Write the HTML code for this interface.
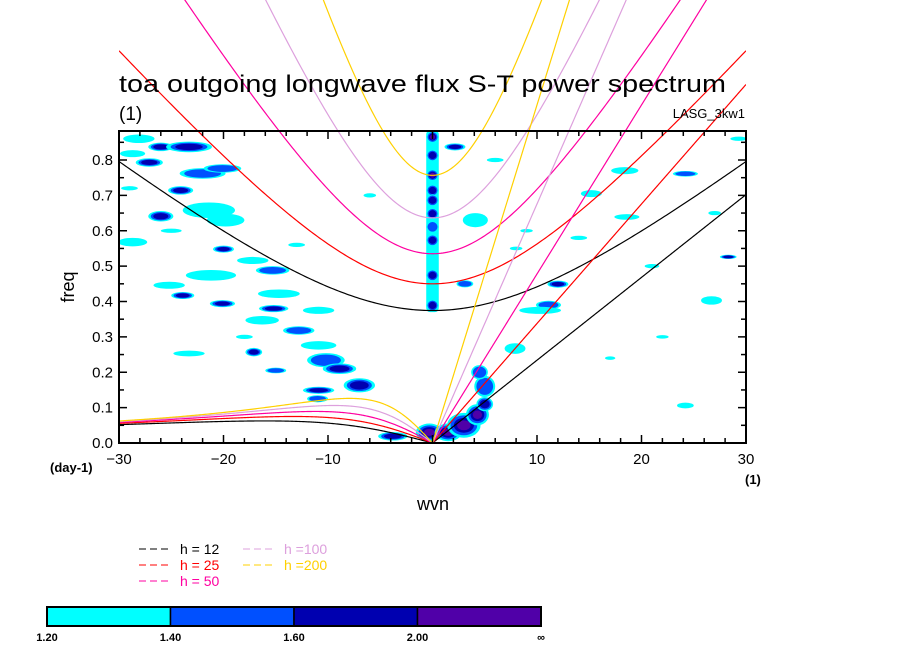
<!DOCTYPE html>
<html><head><meta charset="utf-8"><style>
html,body{margin:0;padding:0;background:#fff;}
svg{display:block;font-family:"Liberation Sans",sans-serif;}
</style></head><body>
<svg id="chart" width="904" height="654" viewBox="0 0 904 654" xmlns="http://www.w3.org/2000/svg">
<rect x="0" y="0" width="904" height="654" fill="#fff"/>
<g id="blobs"></g>
<g id="curves"></g>
<g id="axes"></g>
<text x="119" y="92" font-size="24" textLength="607" lengthAdjust="spacingAndGlyphs">toa outgoing longwave flux S-T power spectrum</text>
<text x="119" y="120" font-size="19">(1)</text>
<text x="745" y="118" font-size="13" text-anchor="end">LASG_3kw1</text>
<text x="433" y="510" font-size="18" text-anchor="middle">wvn</text>
<text x="74" y="287" font-size="18" text-anchor="middle" transform="rotate(-90 74 287)">freq</text>
<text x="50" y="472" font-size="13" font-weight="bold">(day-1)</text>
<text x="745" y="484" font-size="13" font-weight="bold">(1)</text>
<g id="legend"></g>
<g id="colorbar"></g>
</svg>
<script>
const depths = [12, 25, 50, 100, 200];
const depthColors = ["#000000", "#ff0000", "#ff00a0", "#dda0dd", "#ffd000"];
const xTicks = [-30, -20, -10, 0, 10, 20, 30];
const yTicks = [0.0, 0.1, 0.2, 0.3, 0.4, 0.5, 0.6, 0.7, 0.8];
const levelLabels = ["1.20", "1.40", "1.60", "2.00", "\u221e"];
const levelColors = ["#00ffff", "#0050ff", "#0000b0", "#5000a8"];
// blobs: [wvn, freq, halfWidth(wvn), halfHeight(freq), level]
const blobWvn =  [-28.1,-26,-23.3,-27.1,-28.7,-22,-24.1,-20.1,-21.4,-26,-19.8,-28.7,-20,-17.2,-15.3,-21.2,-25.2,-14.7,-23.9,-20.1,-15.2,-10.9,-16.3,-12.8,-10.9,-10.2,-17.1,-8.9,-7,-10.9,-11,-3.8,-15,-23.3,2.15,4.1,3.1,12,11.1,10.3,7.9,15.2,18.4,24.2,29.3,26.7,24.2,28.3,18.6,-29,-25,-18,-13,-6,6,9,14,21,27,22,17,8,-0.3,1.5,3,4.3,5,5,4.5];
const blobFreq = [0.86,0.837,0.837,0.793,0.818,0.762,0.714,0.776,0.658,0.641,0.63,0.568,0.548,0.516,0.488,0.474,0.446,0.422,0.417,0.394,0.38,0.375,0.347,0.318,0.276,0.234,0.257,0.21,0.163,0.149,0.125,0.019,0.205,0.253,0.837,0.63,0.45,0.449,0.39,0.375,0.267,0.705,0.77,0.761,0.86,0.403,0.106,0.526,0.639,0.72,0.6,0.3,0.56,0.7,0.8,0.6,0.58,0.5,0.65,0.3,0.24,0.55,0.03,0.03,0.05,0.08,0.11,0.16,0.2];
const blobRx =   [1.5,1.2,2.2,1.3,1.2,2.2,1.2,1.8,2.5,1.2,1.8,1.4,1,1.5,1.6,2.4,1.5,2,1.1,1.2,1.4,1.5,1.6,1.5,1.7,1.8,0.8,1.6,1.5,1.5,1,1.4,1,1.5,1,1.2,0.8,1,1.2,2,1,1,1.3,1.2,0.8,1,0.8,0.8,1.2,0.8,1,0.8,0.8,0.6,0.8,0.6,0.8,0.7,0.6,0.6,0.5,0.6,1.3,1.3,1.6,1.1,0.8,1,0.8];
const blobRy =   [0.012,0.012,0.015,0.012,0.01,0.015,0.012,0.012,0.022,0.015,0.018,0.012,0.01,0.01,0.012,0.015,0.01,0.012,0.01,0.01,0.01,0.01,0.012,0.012,0.012,0.02,0.012,0.015,0.02,0.01,0.01,0.012,0.008,0.008,0.01,0.02,0.01,0.01,0.012,0.01,0.015,0.01,0.01,0.008,0.006,0.012,0.008,0.006,0.008,0.006,0.006,0.006,0.006,0.006,0.006,0.005,0.006,0.006,0.006,0.005,0.005,0.005,0.025,0.025,0.035,0.03,0.02,0.03,0.02];
const blobLevel =[1,3,3,3,1,2,3,2,1,3,1,1,3,1,2,1,1,1,3,3,3,1,1,2,1,2,3,3,3,3,2,3,2,1,3,1,2,3,2,1,1,1,1,2,1,1,1,3,1,1,1,1,1,1,1,1,1,1,1,1,1,1,4,4,4,4,3,2,2];
// vertical column of maxima at wvn 0
const colFreq = [0.865,0.813,0.757,0.714,0.686,0.648,0.611,0.573,0.474,0.389];
const colLevel = [4,3,4,3,3,3,2,3,3,3];

const X0=119,X1=746,Y0=443,Y1=131;
const xs = w => X0 + (w+30)/60*(X1-X0);
const ys = f => Y0 - f*353.75;
const NS="http://www.w3.org/2000/svg";
function mk(tag, attrs, parent){const e=document.createElementNS(NS,tag);for(const k in attrs)e.setAttribute(k,attrs[k]);parent.appendChild(e);return e;}

const clip = mk('clipPath',{id:'pc'},document.getElementById('chart'));
mk('rect',{x:X0,y:Y1,width:X1-X0,height:Y0-Y1},clip);

const gb = document.getElementById('blobs');
gb.setAttribute('clip-path','url(#pc)');
const colBg = mk('rect',{x:xs(-0.6),y:ys(0.884),width:xs(0.6)-xs(-0.6),height:ys(0.37)-ys(0.884),fill:levelColors[0],rx:4},gb);


function blob(w,f,rx,ry,lv){
  for(let l=0;l<lv;l++){
    const s=1-l*0.2;
    const e=mk('ellipse',{cx:xs(w),cy:ys(f),rx:Math.max(1.5,rx*s*10.45),ry:Math.max(1.5,ry*s*353.75),fill:levelColors[l]},gb);
    
    
  }
}
for(let i=0;i<blobWvn.length;i++) blob(blobWvn[i],blobFreq[i],blobRx[i],blobRy[i],blobLevel[i]);
for(let i=0;i<colFreq.length;i++) blob(0,colFreq[i],0.6,0.017,colLevel[i]);

// dispersion curves
const beta=2.28e-11, Re=6.371e6, g=9.8, cpd=86400/(2*Math.PI);
const gc = document.getElementById('curves');
const clipW = mk('clipPath',{id:'wc'},document.getElementById('chart'));
mk('rect',{x:X0,y:0,width:X1-X0,height:Y0},clipW);
gc.setAttribute('clip-path','url(#wc)');
function curve(fn, w0, w1, color){
  let d='';
  for(let i=0;i<=300;i++){
    const w=w0+(w1-w0)*i/300; const k=w/Re; const om=fn(k);
    d+=(i?'L':'M')+xs(w).toFixed(2)+','+ys(om*cpd).toFixed(2);
  }
  const p=mk('path',{d:d,fill:'none',stroke:color,'stroke-width':1.2},gc);
  
  
}
depths.forEach((h,i)=>{
  const c=Math.sqrt(g*h), col=depthColors[i];
  curve(k=>Math.sqrt(3*beta*c+c*c*k*k),-30,30,col);
  curve(k=>c*k,0,30,col);
  curve(k=>-beta*k/(k*k+3*beta/c),-30,0,col);
});

// axes
const ga=document.getElementById('axes');
const fr=mk('rect',{x:X0,y:Y1,width:X1-X0,height:Y0-Y1,fill:'none',stroke:'#000','stroke-width':2},ga);


for(let w=-30;w<=30;w+=2){
  const L=(w%10===0)?8:5;
  mk('line',{x1:xs(w),x2:xs(w),y1:Y0,y2:Y0-L,stroke:'#000','stroke-width':1.5},ga);
  mk('line',{x1:xs(w),x2:xs(w),y1:Y1,y2:Y1+L,stroke:'#000','stroke-width':1.5},ga);
}
for(let f=0;f<=0.88;f+=0.05){
  const L=(Math.round(f*100)%10===0)?8:5;
  mk('line',{x1:X0,x2:X0+L,y1:ys(f),y2:ys(f),stroke:'#000','stroke-width':1.5},ga);
  mk('line',{x1:X1,x2:X1-L,y1:ys(f),y2:ys(f),stroke:'#000','stroke-width':1.5},ga);
}
xTicks.forEach(v=>{
  const t=mk('text',{x:xs(v),y:Y0+21,'font-size':15,'text-anchor':'middle'},ga);
  t.textContent=(v<0?'\u2212':'')+Math.abs(v);
  
  
});
yTicks.forEach(v=>{
  const t=mk('text',{x:X0-6,y:ys(v)+5,'font-size':15,'text-anchor':'end'},ga);
  t.textContent=v.toFixed(1);
  
  
});

// legend
const gl=document.getElementById('legend');
const legPos=[[139,549],[139,565],[139,581],[243,549],[243,565]];
depths.forEach((h,i)=>{
  const [x,y]=legPos[i];
  const ln=mk('line',{x1:x,x2:x+31,y1:y,y2:y,stroke:depthColors[i],'stroke-width':1,'stroke-dasharray':'7,4'},gl);
  
  
  const t=mk('text',{x:x+41,y:y+5,'font-size':14,fill:depthColors[i]},gl);
  t.textContent='h '+(h<100?'= ':'=')+h;
  
  
});

// colorbar
const gcb=document.getElementById('colorbar');
const cbX0=47,cbX1=541,cbW=(cbX1-cbX0)/4;
levelColors.forEach((c,i)=>{
  const r=mk('rect',{x:cbX0+i*cbW,y:607,width:cbW,height:19,fill:c,stroke:'#000','stroke-width':1.5},gcb);
  
  
});
const cbo=mk('rect',{x:cbX0,y:607,width:cbX1-cbX0,height:19,fill:'none',stroke:'#000','stroke-width':2},gcb);


levelLabels.forEach((s,i)=>{
  const t=mk('text',{x:cbX0+i*cbW,y:641,'font-size':11,'font-weight':'bold','text-anchor':'middle'},gcb);
  t.textContent=s;
  
  
});
</script>
</body></html>
